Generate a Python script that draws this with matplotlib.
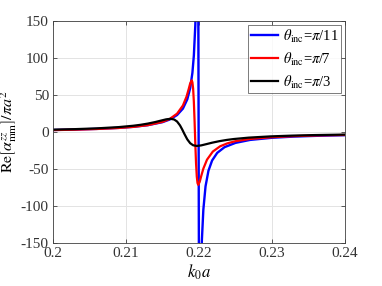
import matplotlib
matplotlib.use("Agg")
import matplotlib.pyplot as plt

plt.rcParams['font.family'] = ['Liberation Serif', 'DejaVu Serif']
plt.rcParams['mathtext.fontset'] = 'stix'
plt.rcParams['axes.unicode_minus'] = False

# theta = pi/11 (blue)
x_blue = [0.200, 0.203, 0.206, 0.209, 0.211, 0.213, 0.215, 0.216, 0.217, 0.2178,
          0.2184, 0.2188, 0.2191, 0.2193, 0.2195, 0.2196, 0.2197, 0.2198, 0.21985,
          0.2199, 0.21995, 0.2200, 0.22005, 0.2201, 0.2202, 0.2203, 0.2204, 0.2206,
          0.2209, 0.2213, 0.2218, 0.2225, 0.2235, 0.225, 0.227, 0.230, 0.233, 0.236, 0.240]
y_blue = [2.71, 3.33, 4.22, 5.59, 7.02, 9.27, 13.3, 16.9, 22.9, 31.6,
          44.1, 59.4, 79.9, 103.4, 144.5, 177.7, 226.7, 283.9, 286.2,
          206.9, -0.8, -208.5, -287.8, -285.5, -228.3, -179.3, -146.1, -105.0,
          -73.4, -52.3, -38.5, -28.2, -20.5, -14.7, -10.7, -7.8, -6.2, -5.2, -4.3]

# theta = pi/7 (red)
x_red = [0.200, 0.203, 0.206, 0.209, 0.211, 0.213, 0.215, 0.216, 0.217, 0.2178,
         0.2183, 0.2186, 0.2188, 0.2190, 0.2191, 0.2192, 0.2193, 0.2194, 0.2195,
         0.2196, 0.2197, 0.2198, 0.2199, 0.2201, 0.2203, 0.2206, 0.2211, 0.2219,
         0.2229, 0.2239, 0.225, 0.227, 0.230, 0.233, 0.236, 0.240]
y_red = [2.54, 3.15, 4.03, 5.42, 6.87, 9.23, 13.65, 17.7, 24.8, 35.8,
         47.9, 58.3, 65.8, 69.8, 67.3, 58.5, 40.8, 14.4, -16.0,
         -42.4, -60.1, -68.9, -71.4, -67.4, -59.9, -49.5, -37.4, -26.4,
         -19.3, -15.3, -12.4, -9.4, -7.0, -5.6, -4.7, -4.0]

# theta = pi/3 (black)
x_black = [0.200, 0.203, 0.206, 0.209, 0.211, 0.212, 0.213, 0.214, 0.2148, 0.2155,
           0.2161, 0.2166, 0.2170, 0.2174, 0.2177, 0.2180, 0.2184, 0.2188, 0.2192,
           0.2197, 0.2203, 0.2210, 0.2218, 0.2228, 0.2238, 0.2248, 0.2268, 0.2298,
           0.2328, 0.2358, 0.2400]
y_black = [3.15, 3.87, 4.92, 6.62, 8.46, 9.73, 11.37, 13.45, 15.42, 17.1,
           17.83, 16.9, 14.17, 8.96, 3.52, -2.53, -9.96, -15.17, -17.9,
           -18.83, -18.1, -16.42, -14.45, -12.37, -10.73, -9.46, -7.62, -5.92,
           -4.87, -4.15, -3.47]

labels = [r'$\theta_{\rm inc}$=$\pi$/11', r'$\theta_{\rm inc}$=$\pi$/7', r'$\theta_{\rm inc}$=$\pi$/3']
xticks = [0.2, 0.21, 0.22, 0.23, 0.24]
xticklabels = ['0.2', '0.21', '0.22', '0.23', '0.24']
yticks = [-150, -100, -50, 0, 50, 100, 150]

fig = plt.figure(figsize=(3.82, 2.86), dpi=100)
ax = fig.add_axes([0.1387, 0.1503, 0.903 - 0.1387, 0.9266 - 0.1503])

ax.plot(x_blue, y_blue, color=(0, 0, 1), lw=1.7, label=labels[0])
ax.plot(x_red, y_red, color=(1, 0, 0), lw=1.6, label=labels[1])
ax.plot(x_black, y_black, color='black', lw=1.6, label=labels[2])

ax.set_xlim(0.2, 0.24)
ax.set_ylim(-150, 150)
ax.set_xticks(xticks)
ax.set_xticklabels(xticklabels)
ax.set_yticks(yticks)
ax.grid(True, color='#e3e3e3', lw=0.7)
ax.set_axisbelow(True)
for s in ax.spines.values():
    s.set_color('#404040')
    s.set_linewidth(0.6)
ax.tick_params(direction='in', top=True, right=True, length=3, width=0.6,
               colors='#404040', labelsize=11, labelcolor='#333333', pad=3)

ax.set_xlabel(r'$k_0a$', fontsize=12, labelpad=2)
ax.set_ylabel(r'${\rm Re}\left[\alpha^{zz}_{\rm mm}\right]/\pi a^2$', fontsize=11.5, labelpad=1)

leg = ax.legend(loc='upper right', fontsize=10.5, frameon=True, fancybox=False,
                borderpad=0.2, handlelength=1.8, handletextpad=0.35, labelspacing=0.4,
                borderaxespad=0.25)
leg.get_frame().set_edgecolor('#404040')
leg.get_frame().set_linewidth(0.6)

fig.savefig('out.png', dpi=100)
